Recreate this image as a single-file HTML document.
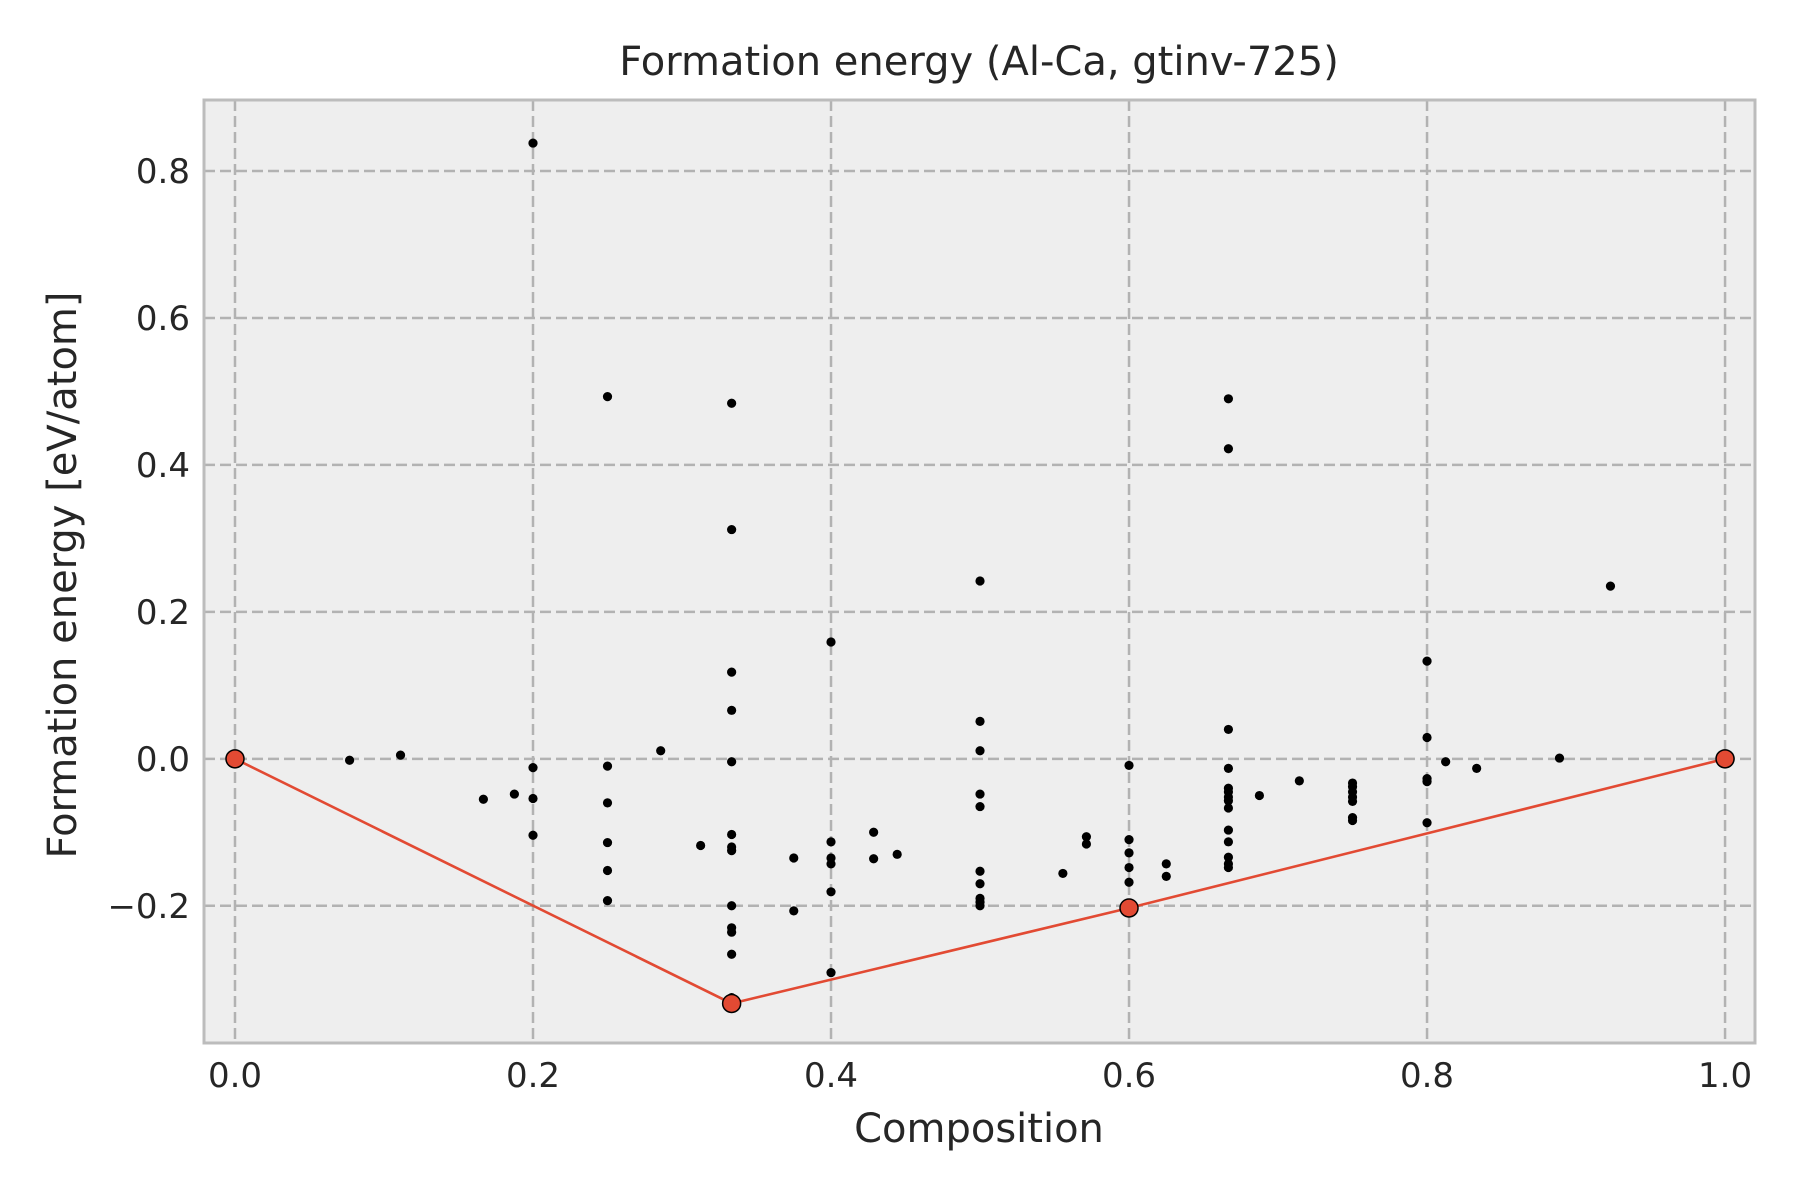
<!DOCTYPE html>
<html><head><meta charset="utf-8"><style>
html,body{margin:0;padding:0;background:#fff;}
svg{display:block;font-family:"DejaVu Sans","Liberation Sans",sans-serif;}
</style></head><body>
<svg id="chart" width="1800" height="1200" viewBox="0 0 1800 1200" xmlns="http://www.w3.org/2000/svg">
<rect x="0" y="0" width="1800" height="1200" fill="#ffffff"/>
<rect x="204" y="100" width="1551" height="943" fill="#eeeeee"/>
<g id="grid"></g>
<g id="hull"></g>
<g id="points"></g>
<g id="hullpts"></g>
<rect x="204" y="100" width="1551" height="943" fill="none" stroke="#bcbcbc" stroke-width="3"/>
<g id="ticks" fill="#262626" font-size="34"></g>
<text x="979" y="75" text-anchor="middle" font-size="40" fill="#262626">Formation energy (Al-Ca, gtinv-725)</text>
<text x="979" y="1142" text-anchor="middle" font-size="40" fill="#262626">Composition</text>
<text x="0" y="0" transform="translate(76,575) rotate(-90)" text-anchor="middle" font-size="40" fill="#262626">Formation energy [eV/atom]</text>
</svg>
<script>
const xTicks = [0.0, 0.2, 0.4, 0.6, 0.8, 1.0];
const xTickLabels = ["0.0", "0.2", "0.4", "0.6", "0.8", "1.0"];
const yTicks = [-0.2, 0.0, 0.2, 0.4, 0.6, 0.8];
const yTickLabels = ["\u22120.2", "0.0", "0.2", "0.4", "0.6", "0.8"];
const compX = [0.0769,0.1111,0.1667,0.1875,
 0.2,0.2,0.2,0.2,
 0.25,0.25,0.25,0.25,0.25,0.25,
 0.2857,0.3125,
 0.3333,0.3333,0.3333,0.3333,0.3333,0.3333,0.3333,0.3333,0.3333,0.3333,0.3333,0.3333,0.3333,
 0.375,0.375,
 0.4,0.4,0.4,0.4,0.4,0.4,
 0.4286,0.4286,0.4444,
 0.5,0.5,0.5,0.5,0.5,0.5,0.5,0.5,0.5,0.5,
 0.5556,0.5714,0.5714,
 0.6,0.6,0.6,0.6,0.6,
 0.625,0.625,
 0.6667,0.6667,0.6667,0.6667,0.6667,0.6667,0.6667,0.6667,0.6667,0.6667,0.6667,0.6667,0.6667,0.6667,
 0.6875,0.7143,
 0.75,0.75,0.75,0.75,0.75,0.75,0.75,
 0.8,0.8,0.8,0.8,0.8,
 0.8125,0.8333,0.8889,0.9231];
const energyY = [-0.002,0.005,-0.055,-0.048,
 0.838,-0.012,-0.054,-0.104,
 0.493,-0.010,-0.060,-0.114,-0.152,-0.193,
 0.011,-0.118,
 0.484,0.312,0.118,0.066,-0.004,-0.103,-0.120,-0.125,-0.200,-0.230,-0.236,-0.266,-0.325,
 -0.135,-0.207,
 0.159,-0.113,-0.135,-0.143,-0.181,-0.291,
 -0.100,-0.136,-0.130,
 0.242,0.051,0.011,-0.048,-0.065,-0.153,-0.170,-0.190,-0.195,-0.200,
 -0.156,-0.106,-0.116,
 -0.009,-0.110,-0.128,-0.148,-0.168,
 -0.143,-0.160,
 0.490,0.422,0.040,-0.013,-0.040,-0.045,-0.052,-0.057,-0.067,-0.097,-0.113,-0.134,-0.143,-0.148,
 -0.050,-0.030,
 -0.033,-0.038,-0.045,-0.052,-0.058,-0.080,-0.084,
 0.133,0.029,-0.027,-0.031,-0.087,
 -0.004,-0.013,0.001,0.235];
const hullX = [0.0, 0.3333, 0.6, 1.0];
const hullY = [0.0, -0.333, -0.203, 0.0];

const NS = "http://www.w3.org/2000/svg";
const X0 = 204, X1 = 1755, Y0 = 100, Y1 = 1043;
const xMin = -0.0208, xMax = 1.0201, yMin = -0.3868, yMax = 0.8967;
function sx(v){ return X0 + (v - xMin) / (xMax - xMin) * (X1 - X0); }
function sy(v){ return Y1 - (v - yMin) / (yMax - yMin) * (Y1 - Y0); }
function mk(tag, attrs, parent){
  const e = document.createElementNS(NS, tag);
  for (const k in attrs) e.setAttribute(k, attrs[k]);
  parent.appendChild(e);
  return e;
}
const grid = document.getElementById('grid');
const ticks = document.getElementById('ticks');
xTicks.forEach((t, i) => {
  const l = mk('line', {x1: sx(t), x2: sx(t), y1: Y0, y2: Y1, stroke: '#b2b2b2', 'stroke-width': 2.5, 'stroke-dasharray': '11,5'}, grid);
  
  
  const tx = mk('text', {x: sx(t), y: 1087, 'text-anchor': 'middle'}, ticks);
  tx.textContent = xTickLabels[i];
  
  
});
yTicks.forEach((t, i) => {
  const l = mk('line', {x1: X0, x2: X1, y1: sy(t), y2: sy(t), stroke: '#b2b2b2', 'stroke-width': 2.5, 'stroke-dasharray': '11,5'}, grid);
  
  
  const tx = mk('text', {x: 190, y: sy(t) + 12, 'text-anchor': 'end'}, ticks);
  tx.textContent = yTickLabels[i];
  
  
});
const hull = document.getElementById('hull');
const pl = mk('polyline', {points: hullX.map((v, i) => sx(v) + ',' + sy(hullY[i])).join(' '), fill: 'none', stroke: '#e24a33', 'stroke-width': 2.6}, hull);


const pts = document.getElementById('points');
compX.forEach((v, i) => {
  const c = mk('circle', {cx: sx(v), cy: sy(energyY[i]), r: 4.6, fill: '#000'}, pts);
  
  
});
const hp = document.getElementById('hullpts');
hullX.forEach((v, i) => {
  const c = mk('circle', {cx: sx(v), cy: sy(hullY[i]), r: 9, fill: '#e24a33', stroke: '#000', 'stroke-width': 1.5}, hp);
  
  
});
</script>
</body></html>
